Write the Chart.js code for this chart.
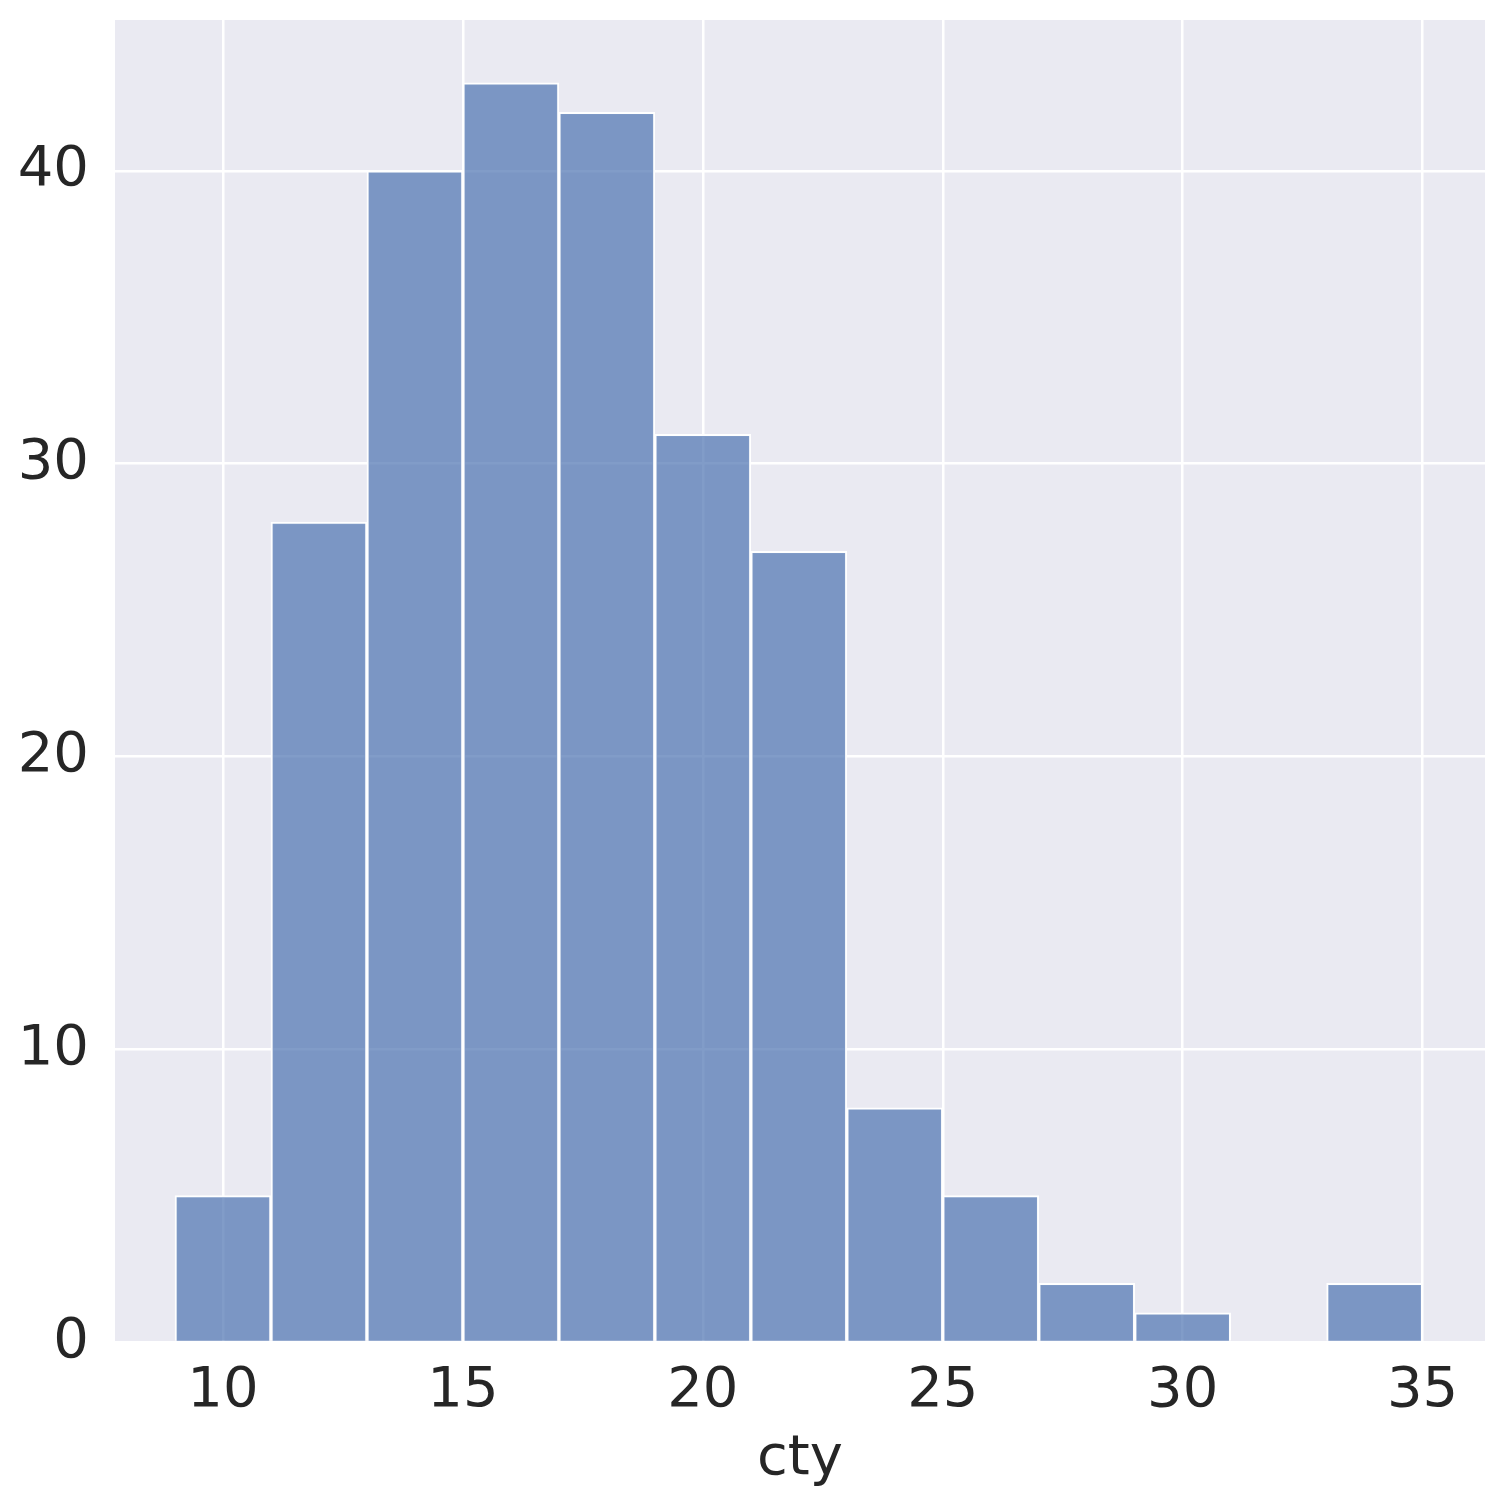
<!DOCTYPE html>
<html>
<head>
<meta charset="utf-8">
<script src="https://cdn.jsdelivr.net/npm/chart.js@4"></script>
<style>
    html, body { margin: 0; padding: 0; background: #ffffff; }
    #wrap { width: 1505px; height: 1505px; }
</style>
</head>
<body>
<div id="wrap"><canvas id="histChart" width="1505" height="1505"></canvas></div>
<script>
// Histogram of cty, bins of width 2 from 9 to 35
const binCenters = [10, 12, 14, 16, 18, 20, 22, 24, 26, 28, 30, 32, 34];
const binCounts = [5, 28, 40, 43, 42, 31, 27, 8, 5, 2, 1, 0, 2];
const xTicks = [10, 15, 20, 25, 30, 35];
const yTicks = [0, 10, 20, 30, 40];
const xLabel = 'cty';

const FONT = "'DejaVu Sans', sans-serif";

// Paint the axes background like seaborn darkgrid
const plotBackground = {
    id: 'plotBackground',
    beforeDraw(chart) {
        const { ctx, chartArea } = chart;
        ctx.save();
        ctx.fillStyle = '#eaeaf2';
        ctx.fillRect(chartArea.left, chartArea.top, chartArea.right - chartArea.left, chartArea.bottom - chartArea.top);
        ctx.restore();
    }
};

const ctx = document.getElementById('histChart').getContext('2d');

new Chart(ctx, {
    type: 'bar',
    data: {
        datasets: [{
            label: 'Count',
            data: binCenters.map((c, i) => ({ x: c, y: binCounts[i] })),
            backgroundColor: 'rgba(76, 114, 176, 0.7)',
            borderColor: '#ffffff',
            borderWidth: 2,
            borderSkipped: 'bottom',
            barPercentage: 1.0,
            categoryPercentage: 1.0,
            grouped: false
        }]
    },
    options: {
        responsive: false,
        animation: false,
        devicePixelRatio: 1,
        layout: {
            padding: { top: 20, right: 20, left: 0, bottom: 0 }
        },
        plugins: {
            legend: { display: false },
            tooltip: { enabled: false }
        },
        scales: {
            x: {
                type: 'linear',
                min: 7.75,
                max: 36.3,
                offset: false,
                afterBuildTicks: (scale) => {
                    scale.ticks = xTicks.map(v => ({ value: v }));
                },
                afterFit: (scale) => {
                    scale.height = 163;
                    scale.paddingLeft = 0;
                    scale.paddingRight = 0;
                },
                grid: {
                    color: '#ffffff',
                    lineWidth: 2.5,
                    drawTicks: false,
                    offset: false
                },
                border: { display: false },
                ticks: {
                    color: '#262626',
                    font: { family: FONT, size: 56 },
                    padding: 16,
                    maxRotation: 0,
                    autoSkip: false
                },
                title: {
                    display: true,
                    text: xLabel,
                    color: '#262626',
                    font: { family: FONT, size: 56 },
                    padding: { top: 0, bottom: 12 }
                }
            },
            y: {
                type: 'linear',
                min: 0,
                max: 45.15,
                afterBuildTicks: (scale) => {
                    scale.ticks = yTicks.map(v => ({ value: v }));
                },
                afterFit: (scale) => {
                    scale.width = 115;
                    scale.paddingTop = 0;
                    scale.paddingBottom = 0;
                },
                grid: {
                    color: '#ffffff',
                    lineWidth: 2.5,
                    drawTicks: false
                },
                border: { display: false },
                ticks: {
                    color: '#262626',
                    font: { family: FONT, size: 56 },
                    padding: 26
                }
            }
        }
    },
    plugins: [plotBackground]
});
</script>
</body>
</html>
